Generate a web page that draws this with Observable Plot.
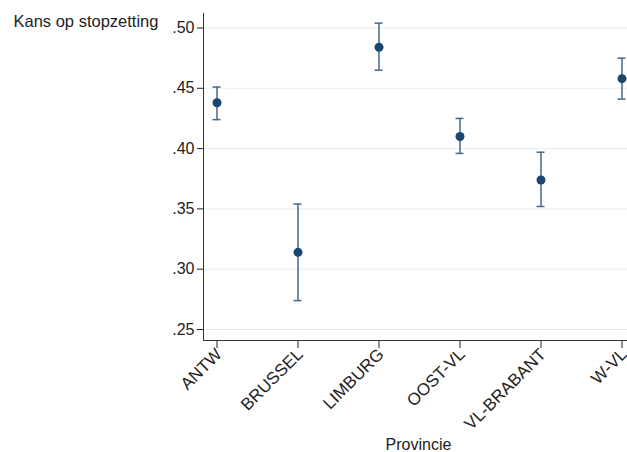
<!DOCTYPE html>
<html><head><meta charset="utf-8">
<script src="https://cdn.jsdelivr.net/npm/d3@7"></script>
<script src="https://cdn.jsdelivr.net/npm/@observablehq/plot@0.6"></script>
<style>body{margin:0;background:#fff;}</style>
</head><body><div id="chart"></div>
<script>
const provinces = ["ANTW","BRUSSEL","LIMBURG","OOST-VL","VL-BRABANT","W-VL"];
const estimate = [0.438,0.314,0.484,0.410,0.374,0.458];
const lower = [0.424,0.274,0.465,0.396,0.352,0.441];
const upper = [0.451,0.354,0.504,0.425,0.397,0.475];
const yTicks = [0.25,0.30,0.35,0.40,0.45,0.50];
const yLabel = "Kans op stopzetting";
const xLabel = "Provincie";

const data = provinces.map((p,i)=>({p, est: estimate[i], lo: lower[i], hi: upper[i]}));
const fmt = d => d3.format(".2f")(d).replace(/^0/,"");
const barColor = "#43698c";
const capInset = 36.5;
const chart = Plot.plot({
  width: 627, height: 452,
  marginLeft: 203, marginRight: 0, marginTop: 13, marginBottom: 112,
  style: {fontFamily: "'Liberation Sans', Arial, sans-serif", background:"#fff", color:"#222"},
  x: {type:"band", domain: provinces, range:[173, 664.5], padding:0, label:null},
  y: {domain:[0.2409, 0.512], label:null},
  marks: [
    Plot.gridY(yTicks, {stroke:"#e3edf0", strokeOpacity:1, strokeWidth:1}),
    Plot.ruleX(data, {x:"p", y1:"lo", y2:"hi", stroke:barColor, strokeWidth:1.5}),
    Plot.tickY(data, {x:"p", y:"lo", stroke:barColor, strokeWidth:1.5, insetLeft:capInset, insetRight:capInset}),
    Plot.tickY(data, {x:"p", y:"hi", stroke:barColor, strokeWidth:1.5, insetLeft:capInset, insetRight:capInset}),
    Plot.dot(data, {x:"p", y:"est", r:4.5, fill:"#1a476f", stroke:"none"}),
    Plot.axisY({ticks:yTicks, tickFormat:fmt, tickSize:6, tickPadding:3, fontSize:16, label:null}),
    Plot.axisX({tickSize:8, tickFormat:() => "", label:null}),
    Plot.axisX({tickRotate:-45, tickSize:0, tickPadding:11, dx:2, fontSize:17, label:null}),
    Plot.frame({anchor:"left", stroke:"#333"}),
    Plot.frame({anchor:"bottom", stroke:"#333"}),
    Plot.text([yLabel], {text:d=>d, frameAnchor:"top-left", dx:-190, dy:8, textAnchor:"start", lineAnchor:"middle", fontSize:16.5, fill:"#222"}),
    Plot.text([xLabel], {text:d=>d, frameAnchor:"bottom", dx:3, dy:104, lineAnchor:"middle", fontSize:16, fill:"#222"})
  ]
});
document.getElementById("chart").appendChild(chart);
</script>
</body></html>
